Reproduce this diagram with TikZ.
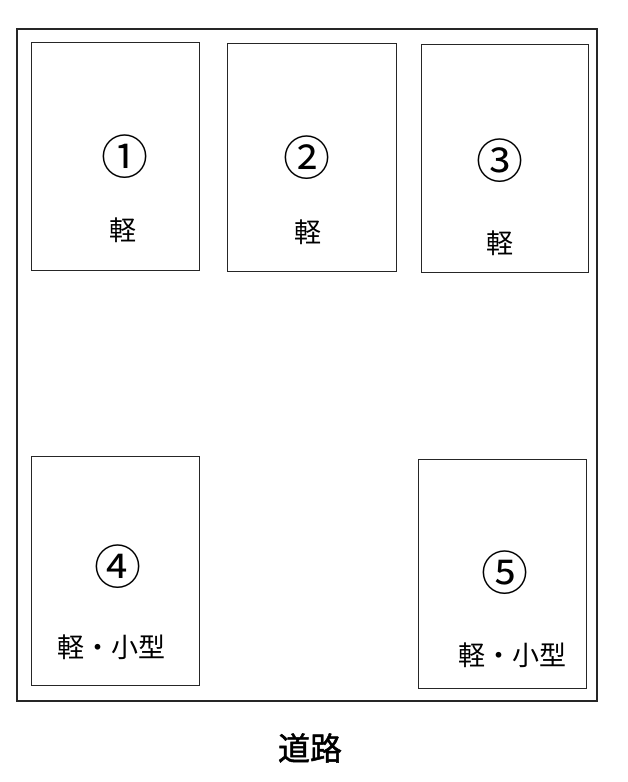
\documentclass[tikz,border=0pt]{standalone}
\usepackage{fontspec}
\setmainfont{Noto Sans CJK JP}
\newfontfamily\roadfont[FakeBold=1.5]{Noto Sans CJK JP}
\tikzset{
    lot/.style={draw=black!85, line width=1pt},
    lotnum/.style={font=\fontsize{47}{47}\selectfont},
    kind/.style={font=\fontsize{27}{27}\selectfont}
}
\begin{document}
\begin{tikzpicture}[x=1pt,y=-1pt]
        \useasboundingbox (0,0) rectangle (628,782);
        % the site boundary
        \draw[lot, line width=1.2pt] (17,29) rectangle (597,701);
        % upper row of parking lots
        \draw[lot] (31,42)  rectangle (199,270);
        \draw[lot] (227,43) rectangle (396,271);
        \draw[lot] (421,44) rectangle (588,272);
        \node[lotnum] (n1) at (125,157) {①};
        \node[lotnum] (n2) at (307,158) {②};
        \node[lotnum] (n3) at (500,161) {③};
        \node[kind] (k1) at (123,230) {軽};
        \node[kind] (k2) at (308,232) {軽};
        \node[kind] (k3) at (500,243) {軽};
        % lower row of parking lots
        \draw[lot] (31,456)  rectangle (199,685);
        \draw[lot] (418,459) rectangle (586,688);
        \node[lotnum] (n4) at (118,567) {④};
        \node[lotnum] (n5) at (505,573) {⑤};
        \node[kind] (k4) at (111,647) {軽・小型};
        \node[kind] (k5) at (512,655) {軽・小型};
        % the road below
        \node[font=\roadfont\fontsize{32}{32}\selectfont] (road) at (310,748) {道路};
    \end{tikzpicture}
\end{document}
